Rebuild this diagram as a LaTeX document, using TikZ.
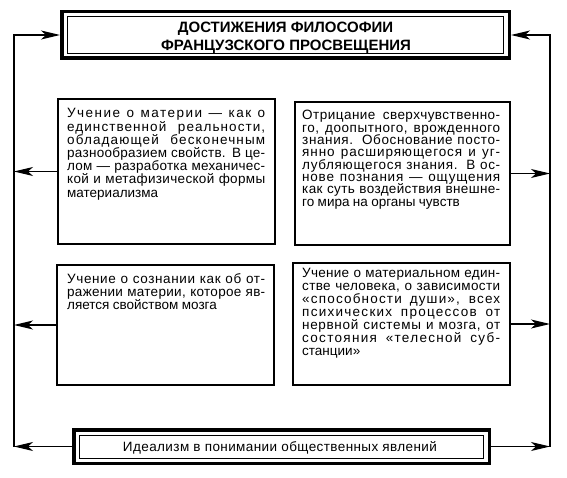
\documentclass[tikz,border=0pt]{standalone}
\usepackage{fontspec}
\setmainfont{Liberation Sans}
\newfontfamily\boxfont[LetterSpace=3]{Liberation Sans}
\usetikzlibrary{arrows.meta}
% justified line: most of the free room goes to letter spacing, the rest to word spaces
\makeatletter
\newcount\lscnt
\newdimen\lsextra
\def\lsstop{}
\def\countaux#1{\ifx#1\lsstop\else\advance\lscnt\@ne\expandafter\countaux\fi}
\newcommand\jl[1]{%
  \setbox0\hbox{#1}%
  \lscnt=0 \countaux#1\lsstop
  \lsextra=\hsize \advance\lsextra-\wd0
  \ifdim\lsextra<0pt \lsextra=0pt\fi
  \divide\lsextra by \lscnt
  \lsextra=0.8\lsextra
  \lsextra=7.407\lsextra
  \edef\lsval{\strip@pt\lsextra}%
  \hbox to\hsize{\edef\x{\noexpand\addfontfeatures{LetterSpace=\lsval}}\x #1}}
\makeatother
\newcommand\lastl[1]{\hbox to\hsize{#1\hfil}}
\newcommand\para[2]{\vtop{\hsize=198pt\baselineskip=#1\lineskiplimit=-20pt\hbadness=10000\hfuzz=4pt
  \spaceskip=0.25em plus 1em minus 0.08em\relax #2}}
\tikzset{
  sheet/.style={draw=black, line width=1.2pt, inner sep=0pt, minimum width=#1},
  frame/.style={draw=black, line width=3.5pt, inner sep=0pt},
  inframe/.style={draw=black, line width=0.9pt},
  txt/.style={inner sep=0pt, anchor=base west, font=\fontsize{13.5}{13.5}\selectfont},
  btxt/.style={inner sep=0pt, anchor=base, font=\boxfont\fontsize{13.5}{13.5}\selectfont},
  ttl/.style={inner sep=0pt, anchor=base, font=\bfseries\fontsize{15}{15}\selectfont},
  trunk/.style={draw=black, line width=1.2pt, line join=miter},
  arr/.style={trunk, -{Stealth[length=19pt, width=9pt, inset=5pt]}},
}
\begin{document}
\begin{tikzpicture}[x=1pt, y=-1pt]
\useasboundingbox[fill=white] (0,0) rectangle (567,478);

% title frame
\node[frame, minimum width=447.5pt, minimum height=46.5pt] (title) at (285.5,35) {};
\draw[inframe] (67,16.5) rectangle (503.5,53.5);
\node[ttl] (title1) at (285.5,33) {ДОСТИЖЕНИЯ ФИЛОСОФИИ};
\node[ttl] (title2) at (286,51) {ФРАНЦУЗСКОГО ПРОСВЕЩЕНИЯ};

% bottom frame
\node[frame, minimum width=415.5pt, minimum height=33.5pt] (bottom) at (281.5,446.5) {};
\draw[inframe] (79.5,435) rectangle (483,458.5);
\node[btxt] (bottomt) at (280,451) {Идеализм в понимании общественных явлений};

% content boxes
\node[sheet=217pt, minimum height=145pt] (b1) at (166.5,171.5) {};
\node[sheet=215pt, minimum height=143pt] (b2) at (402.5,173.5) {};
\node[sheet=217pt, minimum height=120pt] (b3) at (165.5,325) {};
\node[sheet=217pt, minimum height=122pt] (b4) at (401.5,324) {};

\node[txt] (b1t) at (67,118) {\para{13.2pt}{%
\jl{Учение о материи — как о}
\jl{единственной реальности,}
\jl{обладающей бесконечным}
\jl{разнообразием свойств. В це-}
\jl{лом — разработка механичес-}
\jl{кой и метафизической формы}
\lastl{материализма}}};

\node[txt] (b2t) at (302,120) {\para{12.3pt}{%
\jl{Отрицание сверхчувственно-}
\jl{го, доопытного, врожденного}
\jl{знания. Обоснование посто-}
\jl{янно расширяющегося и уг-}
\jl{лубляющегося знания. В ос-}
\jl{нове познания — ощущения}
\jl{как суть воздействия внешне-}
\lastl{го мира на органы чувств}}};

\node[txt] (b3t) at (67,283) {\para{13.2pt}{%
\jl{Учение о сознании как об от-}
\jl{ражении материи, которое яв-}
\lastl{ляется свойством мозга}}};

\node[txt] (b4t) at (302,277) {\para{13.1pt}{%
\jl{Учение о материальном един-}
\jl{стве человека, о зависимости}
\jl{«способности души», всех}
\jl{психических процессов от}
\jl{нервной системы и мозга, от}
\jl{состояния «телесной суб-}
\lastl{станции»}}};

% trunks
\coordinate (lb) at (14,446.5);
\coordinate (lt) at (14,35);
\coordinate (rb) at (550,446.5);
\coordinate (rt) at (550,35);

\draw[arr] (lb) -- (lt) -- (title.west);
\draw[arr] (rb) -- (rt) -- (title.east);
\draw[arr] (bottom.west) -- (lb);
\draw[arr] (bottom.east) -- (rb);
\draw[arr] (b1.west) -- (b1.west -| lt);
\draw[arr] (b3.west) -- (b3.west -| lt);
\draw[arr] (b2.east) -- (b2.east -| rt);
\draw[arr] (b4.east) -- (b4.east -| rt);
\end{tikzpicture}
\end{document}
